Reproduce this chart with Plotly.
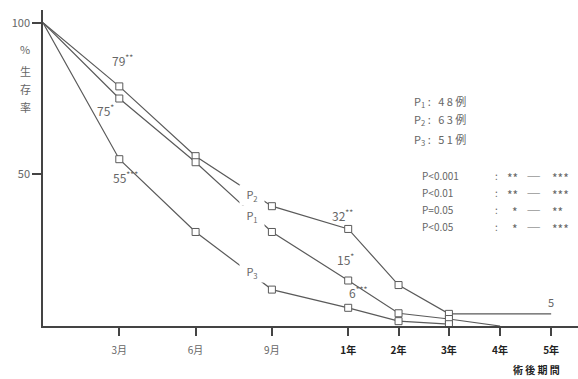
import plotly.graph_objects as go

# ---- data ----
tick_labels = ["3月", "6月", "9月", "1年", "2年", "3年", "4年", "5年"]
# axis position of each tick (3-month spacing = 1 unit; years compressed)
tick_pos = [1, 2, 3, 4, 4.66, 5.32, 5.99, 6.66]
origin_pos = 0

p2_x = ["0", "3月", "6月", "9月", "1年", "2年", "3年", "5年"]
p2_y = [100, 79, 56, 39.5, 32, 13.5, 4, 4]
p1_x = ["0", "3月", "6月", "9月", "1年", "2年", "3年", "4年"]
p1_y = [100, 75, 54, 31, 15, 4.2, 2.3, 0]
p3_x = ["0", "3月", "6月", "9月", "1年", "2年", "3年"]
p3_y = [100, 55, 31, 12, 6, 1.6, 0.6]

marker_show_p2 = [False, True, True, True, True, True, True, False]
marker_show_p1 = [False, True, True, True, True, True, True, False]
marker_show_p3 = [False, True, True, True, True, True, True]

n_cases = [("P<sub>1</sub>", 48), ("P<sub>2</sub>", 63), ("P<sub>3</sub>", 51)]
sig_rows = [("P<0.001", "**", "***"), ("P<0.01", "**", "***"),
            ("P=0.05", "*", "**"), ("P<0.05", "*", "***")]

pos_map = dict(zip(tick_labels, tick_pos))
pos_map["0"] = origin_pos

FONT = "Noto Sans CJK JP, Noto Sans, sans-serif"
GRAY = "#666666"
LINE = "#5a5a5a"

# plot area in pixels
L, R, T, B = 43, 578, 10, 326
W, H = 578, 379


def px(x):
    return (x - L) / (R - L)


def py(y):
    return (B - y) / (B - T)


fig = go.Figure()
for xs, ys, show in [(p2_x, p2_y, marker_show_p2), (p1_x, p1_y, marker_show_p1),
                     (p3_x, p3_y, marker_show_p3)]:
    xv = [pos_map[k] for k in xs]
    fig.add_trace(go.Scatter(x=xv, y=ys, mode="lines", line=dict(color=LINE, width=1.2),
                             hoverinfo="skip", showlegend=False))
    fig.add_trace(go.Scatter(x=[x for x, s in zip(xv, show) if s],
                             y=[y for y, s in zip(ys, show) if s], mode="markers",
                             marker=dict(symbol="square", size=7, color="white",
                                         line=dict(color=LINE, width=1)),
                             hoverinfo="skip", showlegend=False))

ann = []


def add(text, x, y, xref="paper", yref="paper", size=11, color=GRAY, xanchor="center",
        yanchor="middle", xshift=0, yshift=0, **kw):
    ann.append(dict(text=text, x=x, y=y, xref=xref, yref=yref, showarrow=False,
                    font=dict(family=FONT, size=size, color=color), xanchor=xanchor,
                    yanchor=yanchor, xshift=xshift, yshift=yshift, **kw))


# value labels near points
add("79<sup>**</sup>", pos_map["3月"], p2_y[1], "x", "y", xshift=3, yshift=26, size=12)
add("75<sup>*</sup>", pos_map["3月"], p1_y[1], "x", "y", xshift=-14, yshift=-11, size=12)
add("55<sup>***</sup>", pos_map["3月"], p3_y[1], "x", "y", xshift=6, yshift=-18, size=12)
add("32<sup>**</sup>", pos_map["1年"], p2_y[4], "x", "y", xshift=-6, yshift=14, size=12)
add("15<sup>*</sup>", pos_map["1年"], p1_y[4], "x", "y", xshift=-3, yshift=22, size=12)
add("6<sup>***</sup>", pos_map["1年"], p3_y[4], "x", "y", xshift=10, yshift=16, size=12)
add("5", pos_map["5年"], p2_y[-1], "x", "y", yshift=12)

# line labels with white box to break the lines
for lab, yy in [("P<sub>2</sub>", 195), ("P<sub>1</sub>", 216), ("P<sub>3</sub>", 272)]:
    add(lab, px(252), py(yy), bgcolor="white", width=22, height=18)

# case counts
for i, (lab, n) in enumerate(n_cases):
    add(f"{lab} :   {' '.join(str(n))} 例", px(412), py(101 + 19 * i), xanchor="left")

# significance table
for i, (p, a, b) in enumerate(sig_rows):
    yy = py(175 + 17 * i)
    add(p, px(420), yy, xanchor="left", size=10)
    add(":", px(496), yy, size=10)
    add(a, px(520), yy, xanchor="right", size=12, yshift=-2)
    add("——", px(534), yy, size=8)
    add(b, px(550), yy, xanchor="left", size=12, yshift=-2)

# y axis title
for ch, yy in [("%", 49), ("生", 71), ("存", 89), ("率", 107)]:
    add(ch, px(25), py(yy), size=11)

# x axis title
add("<b>術 後 期 間</b>", px(536), py(369), size=10, color="#222222")

ticktext = [f"<span style='color:{GRAY}'>{t}</span>" if "月" in t else f"<b>{t}</b>"
            for t in tick_labels]

fig.update_layout(
    width=W, height=H, margin=dict(l=L, r=W - R, t=T, b=H - B),
    paper_bgcolor="white", plot_bgcolor="white",
    annotations=ann,
    xaxis=dict(range=[0, (R - L) / 76.3], tickvals=tick_pos, ticktext=ticktext,
               showgrid=False, zeroline=False, showline=True, linecolor="#444",
               linewidth=1.5, ticks="outside", ticklen=8, tickcolor="#444", tickwidth=1.5,
               tickfont=dict(family=FONT, size=10, color="#222"), ticklabelstandoff=6),
    yaxis=dict(range=[0, (B - T) / 3.033], tickvals=[50, 100], ticktext=["50", "100"],
               showgrid=False, zeroline=False, showline=True, linecolor="#444",
               linewidth=1.5, ticks="outside", ticklen=9, tickcolor="#444", tickwidth=1.5,
               tickfont=dict(family=FONT, size=11, color=GRAY)),
)
fig.write_html("out.html")
